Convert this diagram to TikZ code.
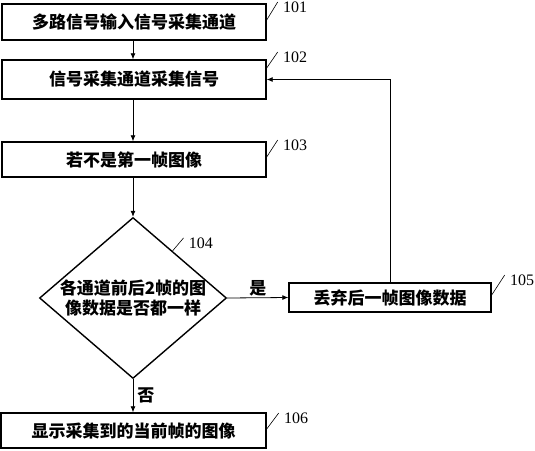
\documentclass[tikz,border=0pt]{standalone}
\usepackage{fontspec}
\setmainfont{Liberation Serif}
\newfontfamily\cjk{Noto Sans CJK SC}
\usetikzlibrary{shapes.geometric,arrows.meta,calc}

\begin{document}
\begin{tikzpicture}[x=1pt,y=-1pt,
  box/.style={draw,line width=1.4pt,inner sep=0pt,
    font=\cjk\bfseries\fontsize{17}{20}\selectfont},
  decision/.style={draw,diamond,line width=1.4pt,inner sep=0pt,
    minimum width=187pt,minimum height=161pt},
  cjktext/.style={inner sep=1pt,font=\cjk\bfseries\fontsize{17}{20}\selectfont},
  num/.style={anchor=north west,inner sep=0pt,xshift=5pt,
    font=\fontsize{16}{16}\selectfont},
  flow/.style={line width=0.8pt,-{Latex[length=6pt,width=5pt]}},
  lead/.style={line width=0.6pt}]
\useasboundingbox (0,0) rectangle (535,450);
% steps
\node[box,minimum width=264pt,minimum height=36pt] (b101) at (134,22)
  {多路信号输入信号采集通道};
\node[box,minimum width=264pt,minimum height=39pt] (b102) at (134,79.5)
  {信号采集通道采集信号};
\node[box,minimum width=264pt,minimum height=35pt] (b103) at (134,159.5)
  {若不是第一帧图像};
\node[decision] (d104) at (133,298) {};
\node[cjktext,align=center] (t104) at (d104) {各通道前后2帧的图\\像数据是否都一样};
\node[box,minimum width=202pt,minimum height=29pt] (b105) at (390,297.5)
  {丢弃后一帧图像数据};
\node[box,minimum width=265pt,minimum height=35pt] (b106) at (133.5,430.5)
  {显示采集到的当前帧的图像};
% arrows
\draw[flow] (b101.south -| d104) -- (b102.north -| d104);
\draw[flow] (b102.south -| d104) -- (b103.north -| d104);
\draw[flow] (b103.south -| d104) -- (d104.north);
\draw[flow] (d104.east) -- node[cjktext,above] {是} (b105.west);
\draw[flow] (d104.south) -- node[cjktext,right,xshift=3pt] {否} (b106.north -| d104);
\draw[flow] (b105.north) |- (b102.east);
% reference numbers
\draw[lead] ([yshift=2pt]b101.east) -- ++(11,-18) node[num] (n101) {101};
\draw[lead] ([yshift=11.5pt]b102.east) -- ++(11,-16) node[num] (n102) {102};
\draw[lead] ([yshift=2.5pt]b103.east) -- ++(11,-17) node[num] (n103) {103};
\draw[lead] ($(d104.north)!0.42!(d104.east)$) -- ++(11,-13) node[num] (n104) {104};
\draw[lead] ([yshift=2.5pt]b105.east) -- ++(13,-20) node[num] (n105) {105};
\draw[lead] ([yshift=1.5pt]b106.east) -- ++(12,-16) node[num] (n106) {106};
\end{tikzpicture}
\end{document}
